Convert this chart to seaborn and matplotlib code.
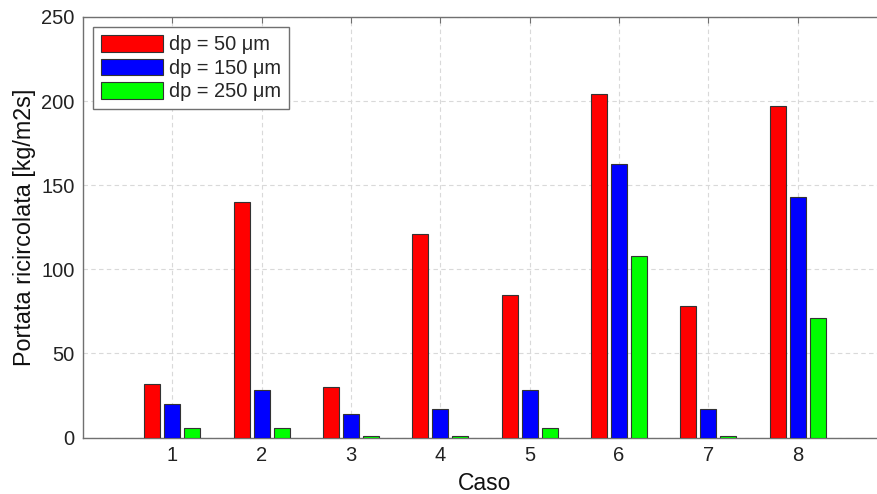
import matplotlib
matplotlib.use("Agg")
import matplotlib.pyplot as plt
import seaborn as sns
import pandas as pd

casi = ["1", "2", "3", "4", "5", "6", "7", "8"]
dp_labels = ["dp = 50 μm", "dp = 150 μm", "dp = 250 μm"]
dp50 = [32, 140, 30, 121, 84.5, 204, 78, 197]
dp150 = [20, 28.5, 14, 17, 28.5, 162.5, 17, 143]
dp250 = [5.5, 5.5, 0.6, 0.6, 5.5, 108, 0.6, 71]
colors = ["#FF0000", "#0000FF", "#00FF00"]
yticks = [0, 50, 100, 150, 200, 250]

rows = []
for lab, vals in zip(dp_labels, [dp50, dp150, dp250]):
    for c, v in zip(casi, vals):
        rows.append({"Caso": c, "dp": lab, "val": v})
df = pd.DataFrame(rows)

sns.set_style("white")
plt.rcParams["font.family"] = ["Liberation Sans", "DejaVu Sans"]

fig = plt.figure(figsize=(8.77, 4.94), dpi=100)
ax = fig.add_axes([83 / 877, (494 - 437.5) / 494, 804 / 877, (437.5 - 17) / 494])

sns.barplot(data=df, x="Caso", y="val", hue="dp", order=casi, hue_order=dp_labels,
            palette=colors, width=0.672, gap=0.2, edgecolor="#333333", linewidth=0.8,
            saturation=1, ax=ax, legend=False, zorder=3)

ax.set_xlim(-1, 8)
ax.set_ylim(0, 250)
ax.set_yticks(yticks)
ax.grid(True, axis="both", linestyle=(0, (4, 3)), color="#d9d9d9", linewidth=0.8, zorder=0)
ax.set_axisbelow(True)

for s in ax.spines.values():
    s.set_color("#707070")
    s.set_linewidth(1.0)

ax.tick_params(axis="both", direction="in", top=True, right=True, length=4,
               color="#707070", labelsize=14.5, labelcolor="#222222", pad=6)
ax.set_xlabel("Caso", fontsize=16.5, color="#111111", labelpad=5)
ax.set_ylabel("Portata ricircolata [kg/m2s]", fontsize=16.8, color="#111111", labelpad=4)

from matplotlib.patches import Patch
handles = [Patch(facecolor=c, edgecolor="#333333", linewidth=0.8) for c in colors]
leg = ax.legend(handles, dp_labels, loc="upper left", bbox_to_anchor=(93 / 877, 1 - 27 / 494),
                bbox_transform=fig.transFigure, borderaxespad=0, fontsize=14.4,
                handlelength=3.1, handleheight=0.9, labelspacing=0.22, handletextpad=0.3,
                borderpad=0.4, fancybox=False, framealpha=1, edgecolor="#707070")
leg.get_frame().set_linewidth(1.0)

fig.savefig("out.png", dpi=100)
